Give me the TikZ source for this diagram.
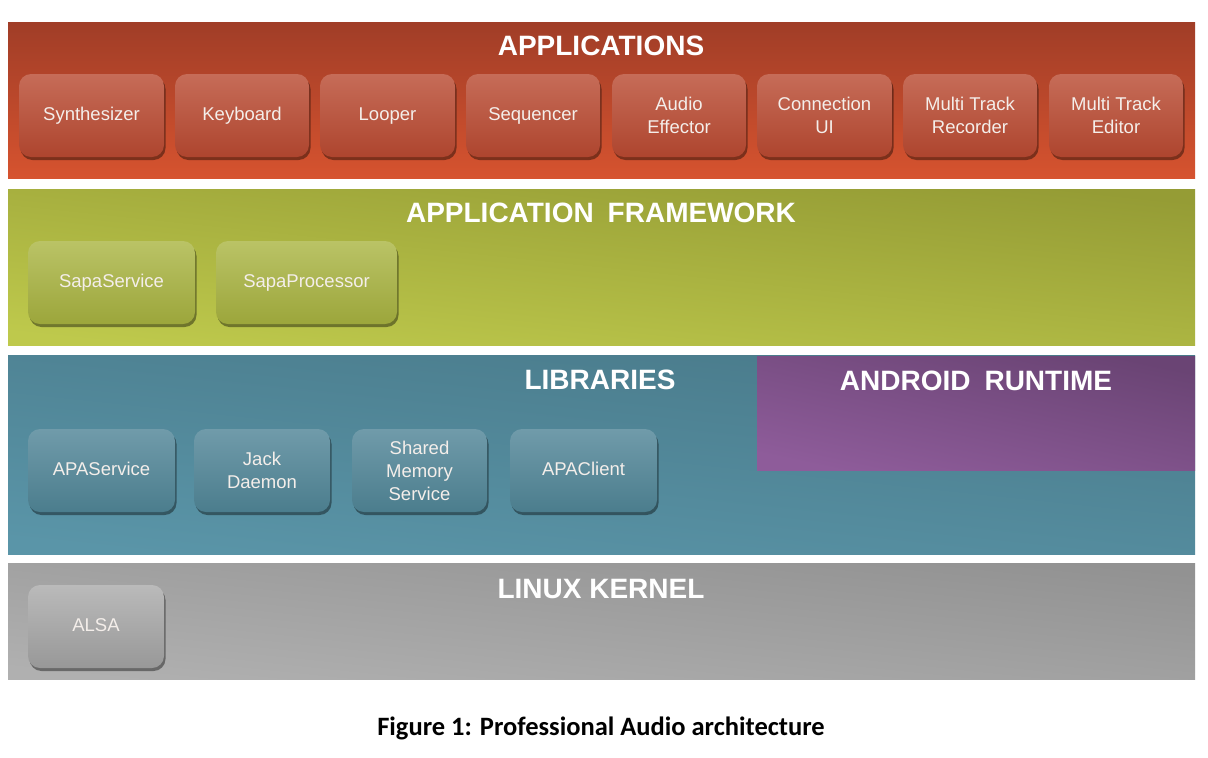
\documentclass[tikz,border=0pt]{standalone}
\usepackage{fontspec}
\setmainfont{Liberation Sans}
\newfontfamily\capfont{Carlito}
\usetikzlibrary{shadows}
\definecolor{redtop}{HTML}{A03D27}
\definecolor{redbot}{HTML}{D6532F}
\definecolor{redboxtop}{HTML}{C66C58}
\definecolor{redboxbot}{HTML}{AE452E}
\definecolor{grntop}{HTML}{959C35}
\definecolor{grnbot}{HTML}{BEC94C}
\definecolor{grnboxtop}{HTML}{BAC366}
\definecolor{grnboxbot}{HTML}{9CA63B}
\definecolor{tealtop}{HTML}{497A8A}
\definecolor{tealbot}{HTML}{5A95A8}
\definecolor{tealboxtop}{HTML}{709BAA}
\definecolor{tealboxbot}{HTML}{4B7D8D}
\definecolor{purtop}{HTML}{6A4474}
\definecolor{purbot}{HTML}{8E5C9A}
\definecolor{greytop}{HTML}{929292}
\definecolor{greybot}{HTML}{B0B0B0}
\definecolor{greyboxtop}{HTML}{BABABA}
\definecolor{greyboxbot}{HTML}{989898}
\definecolor{boxtext}{HTML}{F4EEEA}
\begin{document}
\begin{tikzpicture}[x=1pt,y=-1pt,
  layer/.style={draw=none, inner sep=0pt, minimum width=1187pt},
  title/.style={text=white, font=\fontsize{28}{32}\selectfont\bfseries, inner sep=0pt},
  box/.style={rounded corners=12pt, minimum height=83pt, inner sep=0pt, align=center,
    text=boxtext, font=\fontsize{18.5}{23}\selectfont,
    drop shadow={shadow xshift=1.5pt, shadow yshift=-3pt, opacity=0.4, fill=black}},
  redbox/.style={box, top color=redboxtop, bottom color=redboxbot},
  grnbox/.style={box, top color=grnboxtop, bottom color=grnboxbot},
  tealbox/.style={box, top color=tealboxtop, bottom color=tealboxbot},
  greybox/.style={box, top color=greyboxtop, bottom color=greyboxbot},
]
\useasboundingbox[fill=white] (0,0) rectangle (1208,758);

% layers
\node[layer, minimum height=156pt, top color=redtop, bottom color=redbot] (apps) at (601.5,100) {};
\node[layer, minimum height=156pt, top color=grntop, bottom color=grnbot, shading angle=-6] (fw) at (601.5,267) {};
\node[layer, minimum height=199pt, top color=tealtop, bottom color=tealbot, shading angle=-6] (libs) at (601.5,454.5) {};
\node[draw=none, inner sep=0pt, minimum width=438pt, minimum height=114pt, top color=purtop, bottom color=purbot, shading angle=-12] (art) at (976,413) {};
\node[layer, minimum height=116pt, top color=greytop, bottom color=greybot, shading angle=-6] (kern) at (601.5,621) {};

% titles
\node[title] (tapps) at (601,46) {APPLICATIONS};
\node[title] (tfw) at (601,213) {APPLICATION\hspace{0.5em}FRAMEWORK};
\node[title] (tlibs) at (600,380) {LIBRARIES};
\node[title] (tart) at (976,381) {ANDROID\hspace{0.5em}RUNTIME};
\node[title] (tkern) at (601,589) {LINUX KERNEL};

% application boxes
\node[redbox, minimum width=145pt] (synth) at (91.5,115.5) {Synthesizer};
\node[redbox, minimum width=134pt] (keyb) at (242,115.5) {Keyboard};
\node[redbox, minimum width=135pt] (loop) at (387.5,115.5) {\strut Looper};
\node[redbox, minimum width=134pt] (seq) at (533,115.5) {Sequencer};
\node[redbox, minimum width=134pt] (eff) at (679,115.5) {Audio\\Effector};
\node[redbox, minimum width=135pt] (conn) at (824.5,115.5) {Connection\\UI};
\node[redbox, minimum width=134pt] (rec) at (970,115.5) {Multi Track\\Recorder};
\node[redbox, minimum width=134pt] (edit) at (1116,115.5) {Multi Track\\Editor};

% framework boxes
\node[grnbox, minimum width=167pt] (sserv) at (111.5,282.5) {\strut SapaService};
\node[grnbox, minimum width=181pt] (sproc) at (306.5,282.5) {SapaProcessor};

% library boxes
\node[tealbox, minimum width=147pt] (apas) at (101.5,470.5) {\strut APAService};
\node[tealbox, minimum width=136pt] (jack) at (262,470.5) {Jack\\Daemon};
\node[tealbox, minimum width=135pt] (shm) at (419.5,470.5) {Shared\\Memory\\Service};
\node[tealbox, minimum width=147pt] (apac) at (583.5,470.5) {\strut APAClient};

% kernel box
\node[greybox, minimum width=136pt] (alsa) at (96,626.5) {\strut ALSA};

% caption
\node[font=\capfont\bfseries\fontsize{26.5}{30}\selectfont, inner sep=0pt] (cap) at (601,728) {Figure 1: Professional Audio architecture};
\end{tikzpicture}
\end{document}
